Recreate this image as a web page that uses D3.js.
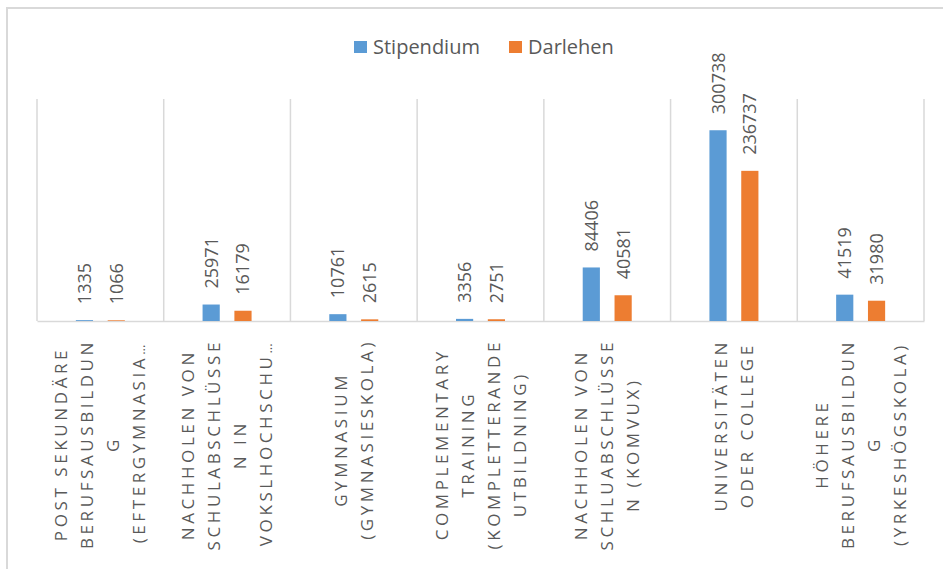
<!DOCTYPE html>
<html>
<head>
<meta charset="utf-8">
<script src="https://cdn.jsdelivr.net/npm/d3@7"></script>
<style>
  body { margin: 0; background: #fff; }
  svg { display: block; }
</style>
</head>
<body>
<div id="chart"></div>
<script>
"use strict";

var width = 943;
var height = 569;

var seriesNames = ["Stipendium", "Darlehen"];
var seriesColors = ["#5b9bd5", "#ed7d31"];

var categoryLines = [
   ["POST SEKUNDÄRE", "BERUFSAUSBILDUN", "G", "(EFTERGYMNASIA…"],
   ["NACHHOLEN VON", "SCHULABSCHLÜSSE", "N IN", "VOKSLHOCHSCHU…"],
   ["GYMNASIUM", "(GYMNASIESKOLA)"],
   ["COMPLEMENTARY", "TRAINING", "(KOMPLETTERANDE", "UTBILDNING)"],
   ["NACHHOLEN VON", "SCHLUABSCHLÜSSE", "N (KOMVUX)"],
   ["UNIVERSITÄTEN", "ODER COLLEGE"],
   ["HÖHERE", "BERUFSAUSBILDUN", "G", "(YRKESHÖGSKOLA)"]
];

var stipendium = [1335, 25971, 10761, 3356, 84406, 300738, 41519];
var darlehen = [1066, 16179, 2615, 2751, 40581, 236737, 31980];

var yMax = 350000;

var plotLeft = 37, plotRight = 924, plotTop = 99, plotBottom = 321;

var svg = d3.select("#chart")
            .append("svg")
            .attr("width", width)
            .attr("height", height);

// outer frame (only top and left visible)
svg.append("rect")
   .attr("x", 7)
   .attr("y", 8)
   .attr("width", 1200)
   .attr("height", 1200)
   .attr("fill", "none")
   .attr("stroke", "#d9d9d9")
   .attr("stroke-width", 2);

var x0 = d3.scaleBand()
           .domain(d3.range(categoryLines.length))
           .range([plotLeft, plotRight])
           .padding(0);

var bw = x0.bandwidth();

var x1 = d3.scaleBand()
           .domain(d3.range(seriesNames.length))
           .range([bw / 2 - 24.5, bw / 2 + 24.5])
           .paddingInner(0.46);

var yScale = d3.scaleLinear()
               .domain([0, yMax])
               .range([plotBottom, plotTop]);

// vertical gridlines between categories
svg.append("g")
   .selectAll("line")
   .data(d3.range(categoryLines.length + 1))
   .enter()
   .append("line")
   .attr("x1", function(i) { return plotLeft + i * x0.step(); })
   .attr("x2", function(i) { return plotLeft + i * x0.step(); })
   .attr("y1", yScale(yMax))
   .attr("y2", yScale(0))
   .attr("stroke", "#d9d9d9")
   .attr("stroke-width", 1.5);

var xAxis = d3.axisBottom(x0).tickSize(0).tickFormat("");
var axisG = svg.append("g")
   .attr("transform", "translate(0," + yScale(0) + ")")
   .call(xAxis);
axisG.select(".domain").attr("stroke", "#d9d9d9").attr("stroke-width", 1.5);

var seriesData = [stipendium, darlehen];

var groups = svg.append("g")
   .selectAll("g")
   .data(categoryLines)
   .enter()
   .append("g")
   .attr("transform", function(d, i) { return "translate(" + x0(i) + ",0)"; });

groups.each(function(d, ci) {
   var g = d3.select(this);
   seriesData.forEach(function(vals, si) {
      var v = vals[ci];
      g.append("rect")
       .attr("x", x1(si))
       .attr("y", yScale(v))
       .attr("width", x1.bandwidth())
       .attr("height", yScale(0) - yScale(v))
       .attr("fill", seriesColors[si]);

      var cx = x1(si) + x1.bandwidth() / 2;
      g.append("text")
       .attr("transform", "translate(" + cx + "," + (yScale(v) - 16) + ") rotate(-90)")
       .attr("dy", "0.36em")
       .attr("text-anchor", "start")
       .style("font-family", "'Open Sans'")
       .style("font-size", "18px")
       .attr("fill", "#595959")
       .text(v);
   });
});

// category labels, rotated, multi-line
var lineGap = 26;
var labelTop = 339;

groups.each(function(lines, ci) {
   var g = d3.select(this);
   var n = lines.length;
   var texts = lines.map(function(line, li) {
      var t = g.append("text")
              .attr("text-anchor", "middle")
              .attr("dy", "0.36em")
              .style("font-family", "'Open Sans'")
              .style("font-size", "17px")
              .style("letter-spacing", "3.6px")
              .attr("fill", "#595959");
      if (line.slice(-1) === "…") {
         t.append("tspan").text(line.slice(0, -1));
         t.append("tspan").style("letter-spacing", "0px").style("font-size", "13px").text("…");
      } else {
         t.text(line);
      }
      return t;
   });
   var maxLen = d3.max(texts, function(t) { return t.node().getComputedTextLength(); });
   var cy = labelTop + maxLen / 2;
   texts.forEach(function(t, li) {
      var lx = bw / 2 + (li - (n - 1) / 2) * lineGap;
      t.attr("transform", "translate(" + lx + "," + cy + ") rotate(-90)");
   });
});

// legend
var legend = svg.append("g").attr("transform", "translate(354,41)");
var legendX = [0, 155];
seriesNames.forEach(function(name, i) {
   legend.append("rect")
         .attr("x", legendX[i])
         .attr("y", 0)
         .attr("width", 13)
         .attr("height", 12)
         .attr("fill", seriesColors[i]);
   legend.append("text")
         .attr("x", legendX[i] + 19)
         .attr("y", 13)
         .style("font-family", "'Open Sans'")
         .style("font-size", "20px")
         .attr("fill", "#595959")
         .text(name);
});
</script>
</body>
</html>
